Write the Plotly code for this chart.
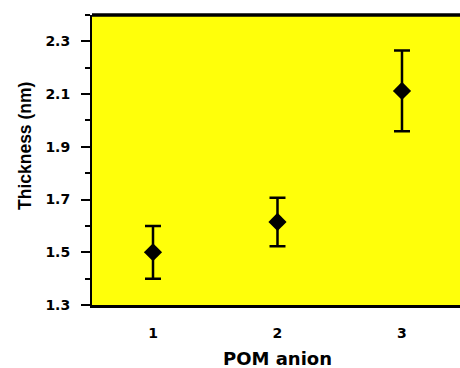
import plotly.graph_objects as go

# Data
pom_anion = [1, 2, 3]
thickness_nm = [1.50, 1.615, 2.112]
thickness_err = [0.10, 0.092, 0.153]
y_ticks = [1.3, 1.5, 1.7, 1.9, 2.1, 2.3]
x_ticks = [1, 2, 3]

W, H = 460, 368
L, R, T, B = 92, 0, 15, 63
pw, ph = W - L - R, H - T - B

fig = go.Figure()
fig.add_trace(go.Scatter(
    x=pom_anion, y=thickness_nm, mode="markers",
    marker=dict(symbol="diamond", size=14, color="black", line=dict(width=0)),
    error_y=dict(type="data", array=thickness_err, visible=True,
                 color="black", thickness=2.5, width=8),
    showlegend=False,
))

tick_font = dict(family="DejaVu Sans", size=14, color="black", weight="bold")

fig.update_layout(
    width=W, height=H,
    margin=dict(l=L, r=R, t=T, b=B, pad=0),
    paper_bgcolor="white", plot_bgcolor="#FFFF0A",
    xaxis=dict(
        range=[0.51, 3.466], tickmode="array", tickvals=x_ticks,
        ticktext=[str(v) for v in x_ticks],
        showgrid=False, zeroline=False, showline=True, linecolor="black",
        linewidth=2.5, ticks="", ticklabelstandoff=13, tickfont=tick_font,
    ),
    yaxis=dict(
        range=[1.3, 2.4], tickmode="array", tickvals=y_ticks,
        ticktext=[f"{v:.1f}" for v in y_ticks],
        showgrid=False, zeroline=False, showline=True, linecolor="black",
        linewidth=2, ticks="outside", ticklen=9, tickwidth=2, tickcolor="black",
        ticklabelstandoff=8, tickfont=tick_font,
        minor=dict(ticks="outside", ticklen=5, tickwidth=2, tickcolor="black",
                   dtick=0.1, tick0=1.3, showgrid=False),
    ),
    shapes=[
        dict(type="line", xref="paper", yref="paper", x0=0, x1=1, y0=1, y1=1,
             line=dict(color="black", width=3.5)),
    ],
    annotations=[
        dict(text="Thickness (nm)", textangle=-90, xref="paper", yref="paper",
             x=(25 - L) / pw, y=(H - B - 146) / ph, xanchor="center", yanchor="middle",
             showarrow=False,
             font=dict(family="Liberation Sans", size=17.5, color="black", weight="bold")),
        dict(text="POM anion", xref="paper", yref="paper",
             x=(277 - L) / pw, y=(H - B - 358) / ph, xanchor="center", yanchor="middle",
             showarrow=False,
             font=dict(family="DejaVu Sans", size=18, color="black", weight="bold")),
    ],
)

fig.write_html("out.html")
